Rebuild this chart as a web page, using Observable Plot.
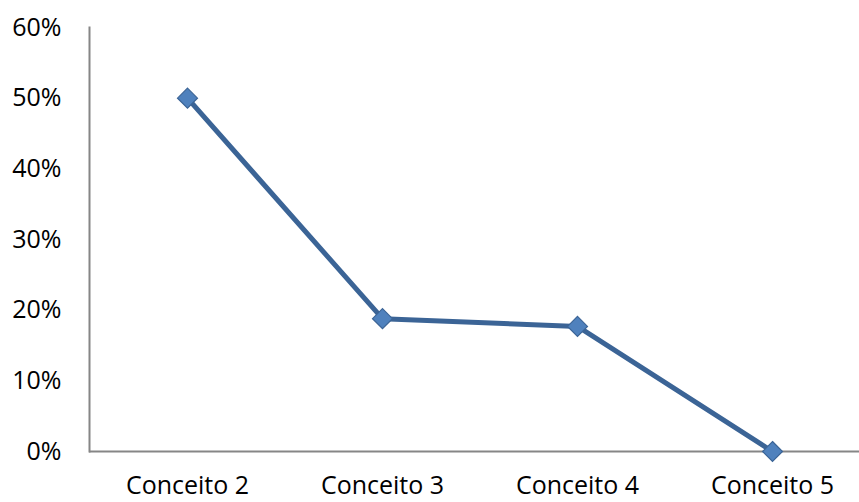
<!DOCTYPE html>
<html>
<head>
<meta charset="utf-8">
<script src="https://cdn.jsdelivr.net/npm/d3@7"></script>
<script src="https://cdn.jsdelivr.net/npm/@observablehq/plot@0.6"></script>
<style>
  body { margin: 0; background: #fff; }
  #chart svg { display: block; }
  #chart svg text { font-size: 25px; font-family: 'Open Sans', 'Noto Sans', sans-serif; fill: #000; }
</style>
</head>
<body>
<div id="chart"></div>
<script>
// Share per grade ("conceito")
const categories = ["Conceito 2", "Conceito 3", "Conceito 4", "Conceito 5"];
const shares = [0.50, 0.188, 0.177, 0.0];
const yTicks = [0, 0.1, 0.2, 0.3, 0.4, 0.5, 0.6];

const data = categories.map((c, i) => ({conceito: c, share: shares[i]}));

const axisColor = "#868686";
const lineColor = "#3b6496";
const markerFill = "#4f81bd";

const chart = Plot.plot({
  width: 859,
  height: 502,
  marginLeft: 89,
  marginRight: 0,
  marginTop: 27,
  marginBottom: 51,
  style: {fontFamily: "'Open Sans', 'Noto Sans', sans-serif", color: "#000", background: "#fff"},
  x: {type: "point", domain: categories, range: [88, 871], padding: 0.5},
  y: {domain: [0, 0.6]},
  marks: [
    Plot.frame({anchor: "left", stroke: axisColor, strokeWidth: 2}),
    Plot.ruleY([0], {stroke: axisColor, strokeWidth: 2}),
    Plot.axisY({ticks: yTicks, tickSize: 0, tickPadding: 28, tickFormat: d => Math.round(d * 100) + "%", label: null}),
    Plot.axisX({tickSize: 0, tickPadding: 25, label: null}),
    Plot.line(data, {x: "conceito", y: "share", stroke: lineColor, strokeWidth: 5}),
    Plot.dot(data, {x: "conceito", y: "share", symbol: "diamond2", r: 9, fill: markerFill, stroke: lineColor, strokeWidth: 1.2})
  ]
});

document.getElementById("chart").appendChild(chart);
</script>
</body>
</html>
